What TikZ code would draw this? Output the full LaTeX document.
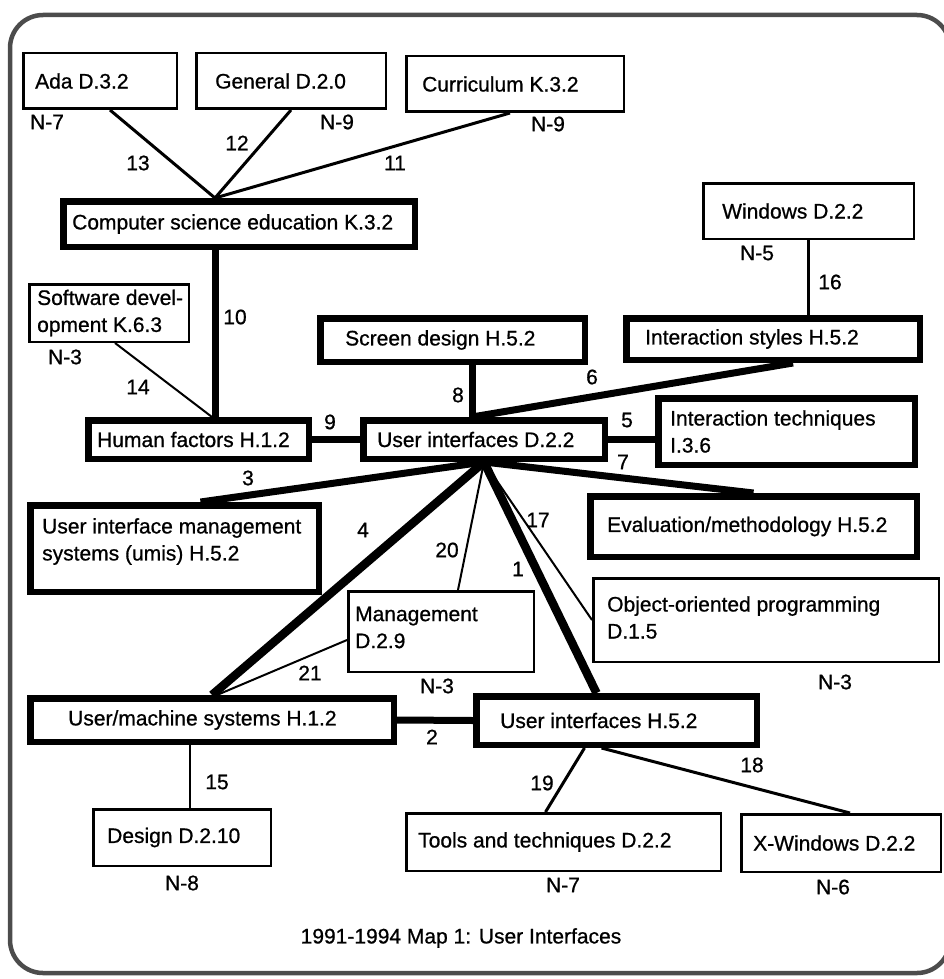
\documentclass[tikz,border=0pt]{standalone}
\usepackage{fontspec}
\setmainfont{Liberation Sans}
\newfontfamily\mapfont{Liberation Sans}[FakeBold=0.8]
\usetikzlibrary{calc,backgrounds}
\begin{document}
\begin{tikzpicture}[x=1pt,y=-1pt,
  box/.style={draw=black, fill=white, inner sep=0pt},
  thinbox/.style={box, line width=2.5pt},
  thickbox/.style={box, line width=6.5pt},
  txt/.style={inner sep=0pt, align=left, anchor=west, font=\mapfont\fontsize{21}{27}\selectfont},
  num/.style={inner sep=0pt, font=\mapfont\fontsize{21}{25}\selectfont},
  thinlink/.style={line width=2pt},
  midlink/.style={line width=3pt},
  boldlink/.style={line width=7pt},
  heavylink/.style={line width=8.5pt},
  frame/.style={draw=black!70, line width=4.5pt, rounded corners=33pt}]

\useasboundingbox (0,0) rectangle (943,979);
\draw[frame] (10,15) rectangle (950,973);

% ---- boxes ----
\node[thinbox,  minimum width=153.5pt, minimum height=55.5pt] (ada)  at (100,81) {};
\node[thinbox,  minimum width=189.5pt, minimum height=55.5pt] (gen)  at (291,81) {};
\node[thinbox,  minimum width=217.5pt, minimum height=55.5pt] (cur)  at (515,84) {};
\node[thickbox, minimum width=351.5pt, minimum height=45.5pt] (cse)  at (239,224) {};
\node[thinbox,  minimum width=210.5pt, minimum height=55.5pt] (win)  at (808.5,211) {};
\node[thinbox,  minimum width=159.5pt, minimum height=57.5pt] (swd)  at (109,313) {};
\node[thickbox, minimum width=264.5pt, minimum height=43.5pt] (scr)  at (452.5,340) {};
\node[thickbox, minimum width=293.5pt, minimum height=41.5pt] (ist)  at (773,339) {};
\node[thickbox, minimum width=220.5pt, minimum height=38.5pt] (hf)   at (198.5,439.5) {};
\node[thickbox, minimum width=241.5pt, minimum height=38.5pt] (uid)  at (484,439.5) {};
\node[thickbox, minimum width=256.5pt, minimum height=66.5pt] (itq)  at (786.5,431.5) {};
\node[thickbox, minimum width=288.5pt, minimum height=86.5pt] (uims) at (174.5,548.5) {};
\node[thickbox, minimum width=326.5pt, minimum height=60.5pt] (evm)  at (753.5,526.5) {};
\node[thinbox,  minimum width=345.5pt, minimum height=83.5pt] (oop)  at (766,620) {};
\node[thinbox,  minimum width=185.5pt, minimum height=80.5pt] (mgt)  at (441,631.5) {};
\node[thickbox, minimum width=363.5pt, minimum height=43.5pt] (ums)  at (212,720) {};
\node[thickbox, minimum width=280.5pt, minimum height=48.5pt] (uih)  at (616.5,720.5) {};
\node[thinbox,  minimum width=177.5pt, minimum height=56.5pt] (des)  at (182,837.5) {};
\node[thinbox,  minimum width=314.5pt, minimum height=57.5pt] (tls)  at (563.5,842) {};
\node[thinbox,  minimum width=199.5pt, minimum height=57.5pt] (xwn)  at (841,843) {};

% ---- box texts ----
\node[txt] (ada-t)  at ($(ada.west)+(13,0)$)  {Ada D.3.2};
\node[txt] (gen-t)  at ($(gen.west)+(20,0)$)  {General D.2.0};
\node[txt] (cur-t)  at ($(cur.west)+(17,0)$)  {Curriculum K.3.2};
\node[txt] (cse-t)  at ($(cse.west)+(12,0)$)  {Computer science education K.3.2};
\node[txt] (win-t)  at ($(win.west)+(20,0)$)  {Windows D.2.2};
\node[txt] (swd-t)  at ($(swd.west)+(9,0)$)   {Software devel-\\opment K.6.3};
\node[txt] (scr-t)  at ($(scr.west)+(28,0)$)  {Screen design H.5.2};
\node[txt] (ist-t)  at ($(ist.west)+(22,0)$)  {Interaction styles H.5.2};
\node[txt] (hf-t)   at ($(hf.west)+(12,0)$)   {Human factors H.1.2};
\node[txt] (uid-t)  at ($(uid.west)+(17,0)$)  {User interfaces D.2.2};
\node[txt] (itq-t)  at ($(itq.west)+(15,0)$)  {Interaction techniques\\I.3.6};
\node[txt] (uims-t) at ($(uims.west)+(15,-7)$) {User interface management\\systems (umis) H.5.2};
\node[txt] (evm-t)  at ($(evm.west)+(20,0)$)  {Evaluation/methodology H.5.2};
\node[txt] (oop-t)  at ($(oop.west)+(15,-2.5)$) {Object-oriented programming\\D.1.5};
\node[txt] (mgt-t)  at ($(mgt.west)+(8,-4)$)  {Management\\D.2.9};
\node[txt] (ums-t)  at ($(ums.west)+(41,0)$)  {User/machine systems H.1.2};
\node[txt] (uih-t)  at ($(uih.west)+(27,0)$)  {User interfaces H.5.2};
\node[txt] (des-t)  at ($(des.west)+(15,0)$)  {Design D.2.10};
\node[txt] (tls-t)  at ($(tls.west)+(13,0)$)  {Tools and techniques D.2.2};
\node[txt] (xwn-t)  at ($(xwn.west)+(13,0)$)  {X-Windows D.2.2};

% ---- counts under the boxes ----
\node[num] (ada-n) at (47,122)  {N-7};
\node[num] (gen-n) at (337,122) {N-9};
\node[num] (cur-n) at (548,124) {N-9};
\node[num] (swd-n) at (65,357)  {N-3};
\node[num] (win-n) at (757,253) {N-5};
\node[num] (mgt-n) at (437,686) {N-3};
\node[num] (oop-n) at (835,682) {N-3};
\node[num] (des-n) at (182,883) {N-8};
\node[num] (tls-n) at (563,885) {N-7};
\node[num] (xwn-n) at (833,887) {N-6};

% ---- meeting points of the connectors ----
\coordinate (cse-in) at ([xshift=-24pt]cse.north);
\coordinate (uid-n)  at ([xshift=-12pt]uid.north);
\coordinate (uid-s)  at (uid.south);

% ---- connectors ----
\begin{scope}[on background layer]
  \draw[midlink]   ([xshift=10pt]ada.south) -- (cse-in);
  \draw[midlink]   (gen.south) -- (cse-in);
  \draw[midlink]   ([xshift=-5pt]cur.south) -- (cse-in);
  \draw[boldlink]  (cse-in |- cse.south) -- (cse-in |- hf.north);
  \draw[thinlink]  ([xshift=6pt]swd.south) -- ([xshift=-3pt]cse-in |- hf.north);
  \draw[boldlink]  (hf.east) -- (uid.west);
  \draw[boldlink]  (uid-n |- scr.south) -- (uid-n);
  \draw[boldlink]  ([xshift=20pt]ist.south) -- (uid-n);
  \draw[midlink]   (win.south) -- (win.south |- ist.north);
  \draw[boldlink]  (uid.east) -- (uid.east -| itq.west);
  \draw[boldlink]  (uid-s) -- (evm.north);
  \draw[boldlink]  (uid-s) -- ([xshift=26pt]uims.north);
  \draw[heavylink] (uid-s) -- (ums.north);
  \draw[thinlink]  (uid-s) -- ([xshift=17pt]mgt.north);
  \draw[thinlink]  (uid-s) -- (oop.west);
  \draw[heavylink] (uid-s) -- ([xshift=-20pt]uih.north);
  \draw[thinlink]  ([yshift=-8.5pt]mgt.west) -- ([xshift=5pt]ums.north);
  \draw[boldlink]  (ums.east) -- (uih.west);
  \draw[thinlink]  ([xshift=8pt]des.north |- ums.south) -- ([xshift=8pt]des.north);
  \draw[midlink]   ([xshift=-32pt]uih.south) -- ([xshift=-18pt]tls.north);
  \draw[midlink]   ([xshift=-15pt]uih.south) -- ([xshift=9pt]xwn.north);
\end{scope}

% ---- connector numbers ----
\node[num] (l13) at (138,163) {13};
\node[num] (l12) at (237,143) {12};
\node[num] (l11) at (395,163) {11};
\node[num] (l10) at (235,317) {10};
\node[num] (l14) at (138,387) {14};
\node[num] (l9)  at (330,422) {9};
\node[num] (l8)  at (458,395) {8};
\node[num] (l16) at (830,282) {16};
\node[num] (l6)  at (592,377) {6};
\node[num] (l5)  at (627,420) {5};
\node[num] (l7)  at (623,462) {7};
\node[num] (l3)  at (248,478) {3};
\node[num] (l4)  at (363,530) {4};
\node[num] (l20) at (447,550) {20};
\node[num] (l17) at (538,520) {17};
\node[num] (l1)  at (518,569) {1};
\node[num] (l21) at (310,673) {21};
\node[num] (l2)  at (432,737) {2};
\node[num] (l15) at (217,782) {15};
\node[num] (l19) at (542,783) {19};
\node[num] (l18) at (752,765) {18};

% ---- caption ----
\node[num] (caption) at (461,938) {1991-1994 Map 1: User Interfaces};
\end{tikzpicture}
\end{document}
